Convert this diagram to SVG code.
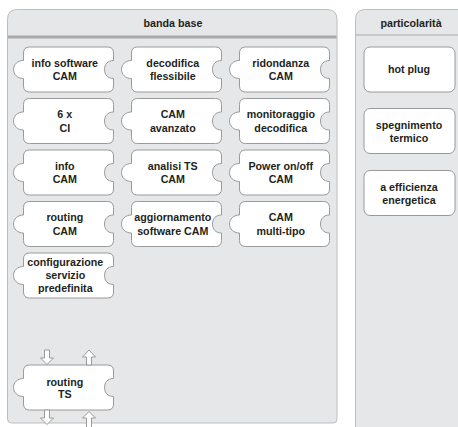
<svg xmlns="http://www.w3.org/2000/svg" xmlns:xlink="http://www.w3.org/1999/xlink" width="458" height="427" viewBox="0 0 458 427">
<style>
.panel{fill:#e6e7e8;stroke:#bdbdbd;stroke-width:1}
.pc{fill:#fff;stroke:#9a9a9a;stroke-width:1}
.t{font-family:"Liberation Sans",Arial,sans-serif;font-weight:bold;font-size:10.7px;fill:#231f20;text-anchor:middle}
.arr{fill:#fff;stroke:#9a9a9a;stroke-width:1;stroke-linejoin:miter}
</style>
<defs>
<path id="piece" d="M6,0 H84 Q90,0 90,6 V13.5 C84,13.5 81,17.5 81,22.5 C81,27.5 84,31.5 90,31.5 V39 Q90,45 84,45 H6 Q0,45 0,39 V31.5 C-6,31.5 -10,27.5 -10,22.5 C-10,17.5 -6,13.5 0,13.5 V6 Q0,0 6,0 Z"/>
<rect id="card" x="0" y="0" width="91" height="45" rx="6" ry="6"/>
</defs>
<g id="panel-banda-base">
<path class="panel" d="M17.5,9.5 H327 Q337,9.5 337,19.5 V419 Q337,423 333,423 H11.5 Q7.5,423 7.5,419 V19.5 Q7.5,9.5 17.5,9.5 Z"/>
<rect x="8" y="35.5" width="328.5" height="3" fill="#a9a9a9"/>
<text class="t" x="173" y="26.5">banda base</text>
</g>
<g id="panel-particolarita">
<path class="panel" d="M365.5,9.5 H470 V432 H355.5 V19.5 Q355.5,9.5 365.5,9.5 Z"/>
<line x1="356" y1="35" x2="470" y2="35" stroke="#aaaaaa" stroke-width="1"/>
<text class="t" x="411" y="27">particolarità</text>
</g>
<g id="n-info-software-cam" transform="translate(23.5,47)"><use xlink:href="#piece" class="pc"/><text class="t" x="41.3" y="19.8">info software</text><text class="t" x="41.3" y="33">CAM</text></g>
<g id="n-decodifica-flessibile" transform="translate(131.5,47)"><use xlink:href="#piece" class="pc"/><text class="t" x="41.3" y="19.8">decodifica</text><text class="t" x="41.3" y="33">flessibile</text></g>
<g id="n-ridondanza-cam" transform="translate(239.5,47)"><use xlink:href="#piece" class="pc"/><text class="t" x="41.3" y="19.8">ridondanza</text><text class="t" x="41.3" y="33">CAM</text></g>
<g id="n-6x-ci" transform="translate(23.5,98.5)"><use xlink:href="#piece" class="pc"/><text class="t" x="41.3" y="19.8">6 x</text><text class="t" x="41.3" y="33">CI</text></g>
<g id="n-cam-avanzato" transform="translate(131.5,98.5)"><use xlink:href="#piece" class="pc"/><text class="t" x="41.3" y="19.8">CAM</text><text class="t" x="41.3" y="33">avanzato</text></g>
<g id="n-monitoraggio-decodifica" transform="translate(239.5,98.5)"><use xlink:href="#piece" class="pc"/><text class="t" x="41.3" y="19.8">monitoraggio</text><text class="t" x="41.3" y="33">decodifica</text></g>
<g id="n-info-cam" transform="translate(23.5,150)"><use xlink:href="#piece" class="pc"/><text class="t" x="41.3" y="19.8">info</text><text class="t" x="41.3" y="33">CAM</text></g>
<g id="n-analisi-ts-cam" transform="translate(131.5,150)"><use xlink:href="#piece" class="pc"/><text class="t" x="41.3" y="19.8">analisi TS</text><text class="t" x="41.3" y="33">CAM</text></g>
<g id="n-power-cam" transform="translate(239.5,150)"><use xlink:href="#piece" class="pc"/><text class="t" x="41.3" y="19.8">Power on/off</text><text class="t" x="41.3" y="33">CAM</text></g>
<g id="n-routing-cam" transform="translate(23.5,201.5)"><use xlink:href="#piece" class="pc"/><text class="t" x="41.3" y="19.8">routing</text><text class="t" x="41.3" y="33">CAM</text></g>
<g id="n-aggiornamento-software-cam" transform="translate(131.5,201.5)"><use xlink:href="#piece" class="pc"/><text class="t" x="41.3" y="19.8">aggiornamento</text><text class="t" x="41.3" y="33">software CAM</text></g>
<g id="n-cam-multi-tipo" transform="translate(239.5,201.5)"><use xlink:href="#piece" class="pc"/><text class="t" x="41.3" y="19.8">CAM</text><text class="t" x="41.3" y="33">multi-tipo</text></g>
<g id="n-configurazione" transform="translate(23.5,253)"><use xlink:href="#piece" class="pc"/><text class="t" x="41.8" y="13.3">configurazione</text><text class="t" x="41.8" y="26.3">servizio</text><text class="t" x="41.8" y="39">predefinita</text></g>
<g id="n-routing-ts" transform="translate(23.5,365)"><use xlink:href="#piece" class="pc"/><text class="t" x="41.3" y="20.5">routing</text><text class="t" x="41.3" y="33.3">TS</text></g>
<g id="n-hot-plug" transform="translate(364,47)"><use xlink:href="#card" class="pc"/><text class="t" x="45" y="26">hot plug</text></g>
<g id="n-spegnimento-termico" transform="translate(364,108.5)"><use xlink:href="#card" class="pc"/><text class="t" x="45" y="20">spegnimento</text><text class="t" x="45" y="33">termico</text></g>
<g id="n-efficienza" transform="translate(364,170.5)"><use xlink:href="#card" class="pc"/><text class="t" x="45" y="20">a efficienza</text><text class="t" x="45" y="33">energetica</text></g>
<g id="connectors">
<path class="arr" d="M44.5,350 H49.5 V358 H53.5 L47,364.5 L40.5,358 H44.5 Z"/>
<path class="arr" d="M89,350 L95.5,357 H91.5 V365 H86.5 V357 H82.5 Z"/>
<path class="arr" d="M44.5,410 H49.5 V418 H53.5 L47,424.5 L40.5,418 H44.5 Z"/>
<path class="arr" d="M89,411.5 L95.5,418 H91.5 V430 H86.5 V418 H82.5 Z"/>
</g>
</svg>
